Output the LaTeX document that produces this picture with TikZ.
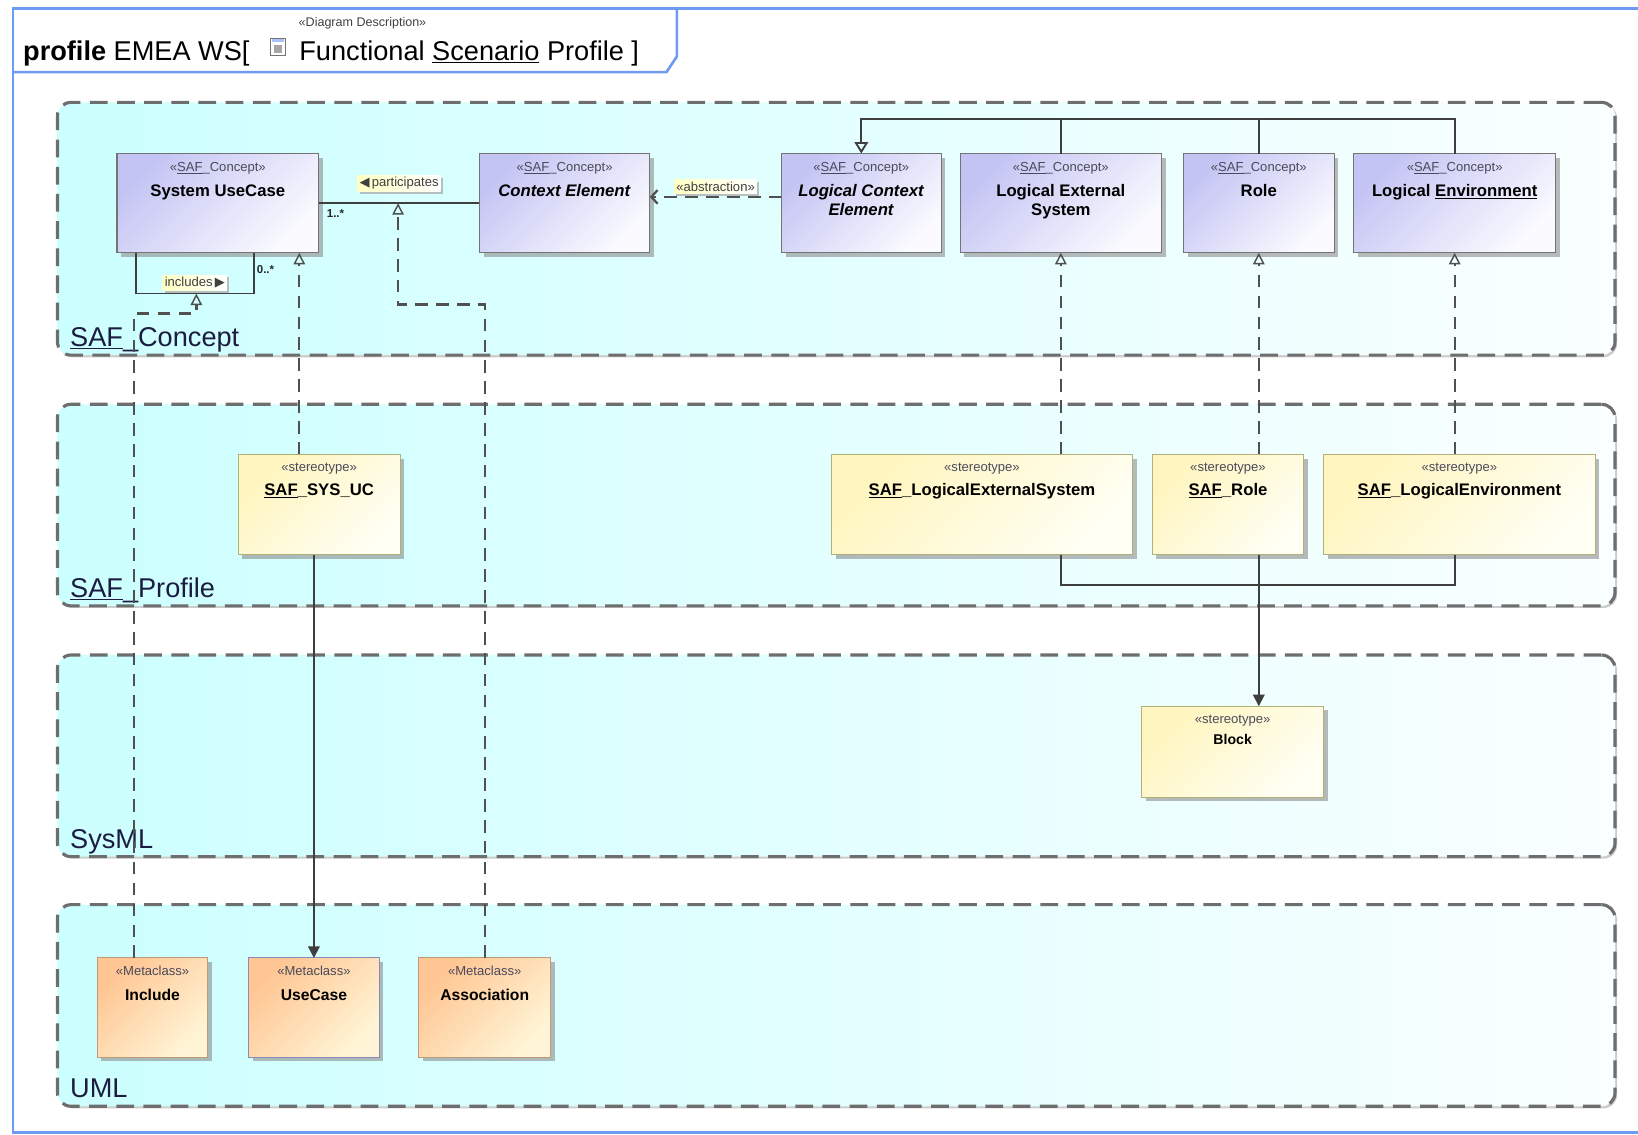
\documentclass[tikz,border=0pt]{standalone}
\usepackage{fontspec}
\setmainfont{Liberation Sans}
\newfontfamily\symfont{DejaVu Sans}
\usepackage{xcolor}
\usepackage{tikz}
\usetikzlibrary{arrows.meta,positioning,shadows}
\definecolor{frameBlue}{HTML}{6E9BF2}
\definecolor{pkgLine}{HTML}{6E6E6E}
\definecolor{pkgLeft}{HTML}{CCFFFF}
\definecolor{pkgRight}{HTML}{FAFFFF}
\definecolor{pkgText}{HTML}{1C1C40}
\definecolor{conceptTop}{HTML}{C4C4F4}
\definecolor{conceptLow}{HTML}{FAFAFF}
\definecolor{conceptLine}{HTML}{747474}
\definecolor{stereoTop}{HTML}{FFF5BE}
\definecolor{stereoLow}{HTML}{FFFFF4}
\definecolor{stereoLine}{HTML}{B4AE78}
\definecolor{metaTop}{HTML}{FFC592}
\definecolor{metaLow}{HTML}{FFF5D6}
\definecolor{metaLine}{HTML}{BE9A78}
\definecolor{ucLine}{HTML}{8C88B8}
\definecolor{connGray}{HTML}{3E3E3E}
\definecolor{dashGray}{HTML}{505050}
\definecolor{tagYellow}{HTML}{FFFFC4}
\definecolor{smallGray}{HTML}{4A4A5A}
\newcommand{\stfont}{\fontsize{12.5}{14}\selectfont\mdseries\color{smallGray}}

\begin{document}
\begin{tikzpicture}[x=1pt, y=-1pt,
    frame/.style={draw=frameBlue, line width=2.5pt},
    titletxt/.style={anchor=base west, inner sep=0pt, font=\fontsize{26}{30}\selectfont},
    docicon/.style={rectangle, draw=black!55, line width=0.8pt, fill=white, minimum width=14pt, minimum height=17pt, inner sep=0pt,
        path picture={\fill[black!35] ([xshift=3pt, yshift=-7pt]path picture bounding box.north west) rectangle ([xshift=-3pt, yshift=3pt]path picture bounding box.south east);
                      \fill[frameBlue!60] ([xshift=1pt, yshift=-1pt]path picture bounding box.north west) rectangle ([xshift=-1pt, yshift=-4pt]path picture bounding box.north east);}},
    pkgbox/.style={rectangle, draw=pkgLine, line width=3pt, dash pattern=on 17pt off 9pt, rounded corners=13pt, left color=pkgLeft, right color=pkgRight, minimum width=1491pt, minimum height=193pt, anchor=north west, inner sep=0pt, outer sep=0pt, drop shadow={shadow xshift=2pt, shadow yshift=-2pt, fill=black!20, opacity=1}},
    pkglbl/.style={anchor=base west, xshift=12pt, yshift=8pt, inner sep=0pt, text=pkgText, font=\fontsize{26}{30}\selectfont},
    conceptbox/.style={rectangle, draw=conceptLine, line width=1pt, top color=conceptTop, bottom color=conceptLow, shading angle=45, minimum height=95pt, anchor=north west, inner sep=0pt, outer sep=0pt, drop shadow={shadow xshift=4pt, shadow yshift=-4pt, fill=black!45, opacity=0.6}},
    stereobox/.style={rectangle, draw=stereoLine, line width=1pt, top color=stereoTop, bottom color=stereoLow, shading angle=45, minimum height=96pt, anchor=north west, inner sep=0pt, outer sep=0pt, drop shadow={shadow xshift=4pt, shadow yshift=-4pt, fill=black!45, opacity=0.6}},
    metabox/.style={rectangle, draw=metaLine, line width=1pt, top color=metaTop, bottom color=metaLow, shading angle=45, minimum height=95pt, anchor=north west, inner sep=0pt, outer sep=0pt, drop shadow={shadow xshift=4pt, shadow yshift=-4pt, fill=black!45, opacity=0.6}},
    boxlbl/.style={anchor=north, yshift=-8pt, align=center, inner sep=0pt, font=\fontsize{16}{18}\selectfont\bfseries},
    tagbox/.style={rectangle, left color=tagYellow, right color=white, inner sep=2pt, text=black!75, font=\fontsize{12.5}{14}\selectfont, drop shadow={shadow xshift=2pt, shadow yshift=-2pt, fill=black!35, opacity=0.7}},
    mult/.style={inner sep=1pt, font=\fontsize{11}{13}\selectfont\bfseries, text=black!85},
    line/.style={draw=connGray, line width=1.8pt},
    depLine/.style={draw=dashGray, line width=2.2pt, dash pattern=on 12pt off 8pt},
    genTip/.style={-{Triangle[open, length=11pt, width=13pt]}},
    depTip/.style={-{Triangle[open, length=11pt, width=11pt, line width=1.4pt]}},
    extTip/.style={-{Triangle[length=11pt, width=11pt]}},
    absTip/.style={-{Straight Barb[length=6pt, width=13pt]}}
]
\useasboundingbox (0,0) rectangle (1568,1086);

% Frame and title
\draw[frame] (12.5,8) rectangle (1590,1084);
\draw[frame] (12.5,69) -- (638,69) -- (648,54) -- (648,8);
\node[font=\fontsize{12}{14}\selectfont, text=black!75, inner sep=0pt] (ttlStereo) at (347,22) {«Diagram Description»};
\node[titletxt] (ttlA) at (22,58) {\textbf{profile} EMEA WS[};
\node[docicon] (icon) at (266,45) {};
\node[titletxt] (ttlB) at ([xshift=13pt]icon.east |- ttlA.base) {Functional \underline{Scenario} Profile ]};

% Packages
\node[pkgbox, minimum height=242pt, label={[pkglbl]south west:\underline{SAF}\_Concept}] (pcon) at (55,98) {};
\node[pkgbox, below=47pt of pcon, label={[pkglbl]south west:\underline{SAF}\_Profile}] (ppro) {};
\node[pkgbox, below=47pt of ppro, label={[pkglbl]south west:SysML}] (psys) {};
\node[pkgbox, below=46pt of psys, label={[pkglbl]south west:UML}] (puml) {};

% SAF concepts
\node[conceptbox, minimum width=193pt, label={[boxlbl]north:{\stfont«\underline{SAF}\_Concept»}\\[6pt]System UseCase}] (suc) at (112,147) {};
\node[conceptbox, minimum width=163pt, right=154pt of suc, label={[boxlbl]north:{\stfont«\underline{SAF}\_Concept»}\\[6pt]\textit{Context Element}}] (ctx) {};
\node[conceptbox, minimum width=153pt, right=126pt of ctx, label={[boxlbl]north:{\stfont«\underline{SAF}\_Concept»}\\[6pt]\textit{Logical Context}\\\textit{Element}}] (lce) {};
\node[conceptbox, minimum width=193pt, right=18pt of lce, label={[boxlbl]north:{\stfont«\underline{SAF}\_Concept»}\\[6pt]Logical External\\System}] (les) {};
\node[conceptbox, minimum width=144pt, right=21pt of les, label={[boxlbl]north:{\stfont«\underline{SAF}\_Concept»}\\[6pt]Role}] (role) {};
\node[conceptbox, minimum width=193pt, right=19pt of role, label={[boxlbl]north:{\stfont«\underline{SAF}\_Concept»}\\[6pt]Logical \underline{Environment}}] (lenv) {};

% Stereotypes
\node[stereobox, minimum width=155pt, label={[boxlbl]north:{\stfont«stereotype»}\\[5pt]\underline{SAF}\_SYS\_UC}] (sysuc) at (228,435) {};
\node[stereobox, minimum width=288pt, label={[boxlbl]north:{\stfont«stereotype»}\\[5pt]\underline{SAF}\_LogicalExternalSystem}] (sles) at (796,435) {};
\node[stereobox, minimum width=145pt, right=19pt of sles, label={[boxlbl]north:{\stfont«stereotype»}\\[5pt]\underline{SAF}\_Role}] (srole) {};
\node[stereobox, minimum width=260pt, right=19pt of srole, label={[boxlbl]north:{\stfont«stereotype»}\\[5pt]\underline{SAF}\_LogicalEnvironment}] (slenv) {};
\node[stereobox, minimum width=174pt, minimum height=87pt, label={[boxlbl, font=\fontsize{13.5}{16}\selectfont\bfseries]north:{\stfont«stereotype»}\\[4pt]Block}] (blk) at (1093,676) {};

% Metaclasses
\node[metabox, minimum width=106pt, label={[boxlbl, font=\fontsize{15}{18}\selectfont\bfseries]north:{\stfont«Metaclass»}\\[5pt]Include}] (incl) at (93,917) {};
\node[metabox, minimum width=125pt, draw=ucLine, right=39pt of incl, label={[boxlbl, font=\fontsize{15}{18}\selectfont\bfseries]north:{\stfont«Metaclass»}\\[5pt]UseCase}] (ucase) {};
\node[metabox, minimum width=126pt, right=38pt of ucase, label={[boxlbl, font=\fontsize{15}{18}\selectfont\bfseries]north:{\stfont«Metaclass»}\\[5pt]Association}] (assoc) {};

% Associations
\draw[line] (suc) -- node[tagbox, above=10pt] (tagpart) {{\symfont◀}\,participates} coordinate[pos=0.494] (assocjoin)
    node[mult, pos=0, below right=4pt and 6pt] (mult1) {1..*} (ctx);
\draw[line] ([xshift=18pt]suc.south west) -- ++(0,39)
    -- node[tagbox, above=2pt] (tagincl) {includes\,{\symfont▶}} coordinate[pos=0.513] (incjoin) ++(113,0)
    -- node[mult, pos=0.6, right=1pt] (mult0) {0..*} ++(0,-39);
\draw[depLine, absTip] ([yshift=6pt]lce.west) -- node[tagbox, above=2pt] (tagabs) {«abstraction»} ([yshift=6pt]ctx.east);

% Generalizations
\coordinate (genbar) at ([yshift=33pt]lce.north);
\draw[line, genTip] (lenv.north) |- (genbar) -- (lce.north);
\draw[line] (les.north) -- (les.north |- genbar);
\draw[line] (role.north) -- (role.north |- genbar);

% Dependencies
\draw[depLine, depTip] ([xshift=-19pt]sysuc.north) -- ([xshift=-19pt]sysuc.north |- suc.south);
\draw[depLine, depTip] (sles.north -| les.south) -- (les.south);
\draw[depLine, depTip] (srole.north -| role.south) -- (role.south);
\draw[depLine, depTip] (slenv.north -| lenv.south) -- (lenv.south);
\draw[depLine, depTip] ([xshift=-18pt]incl.north) |- ([yshift=-19pt]incjoin) -- (incjoin);
\draw[depLine, depTip] (assoc.north) |- ([yshift=-97pt]assocjoin) -- (assocjoin);

% Extensions
\draw[line, extTip] (sysuc.south -| ucase.north) -- (ucase.north);
\draw[line] (sles.south -| les.south) -- ++(0,29) -| (slenv.south -| lenv.south);
\draw[line, extTip] (srole.south -| role.south) -- (blk.north -| role.south);

\end{tikzpicture}
\end{document}
